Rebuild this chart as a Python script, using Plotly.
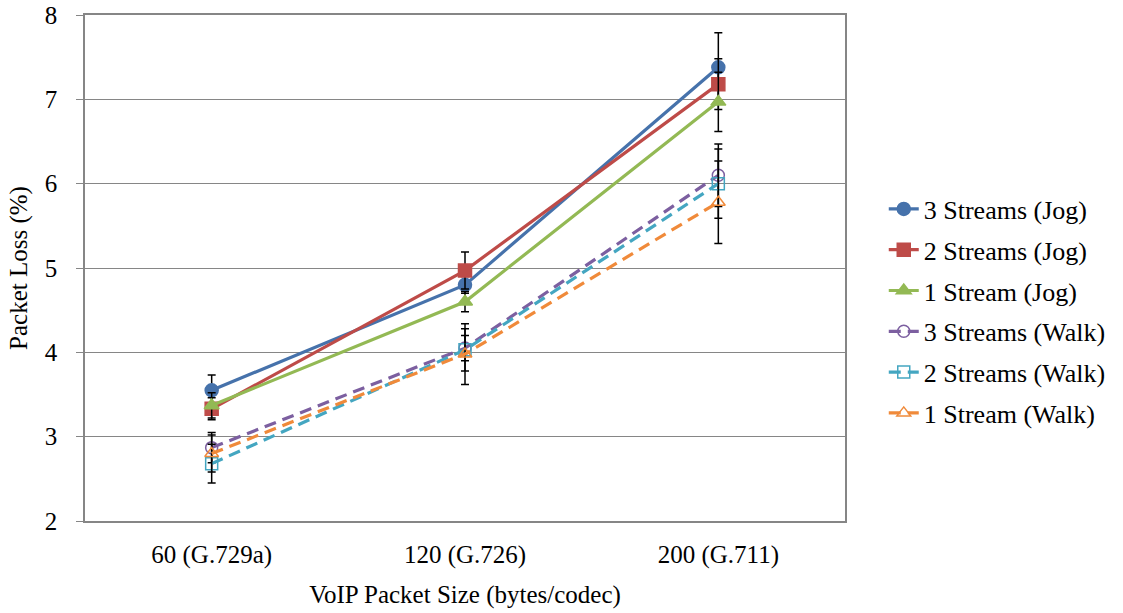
import plotly.graph_objects as go

categories = ["60 (G.729a)", "120 (G.726)", "200 (G.711)"]

series_names = ["3 Streams (Jog)", "2 Streams (Jog)", "1 Stream (Jog)",
                "3 Streams (Walk)", "2 Streams (Walk)", "1 Stream (Walk)"]

jog3 = [3.55, 4.80, 7.38]
jog2 = [3.33, 4.97, 7.18]
jog1 = [3.37, 4.60, 6.97]
walk3 = [2.87, 4.05, 6.10]
walk2 = [2.68, 4.03, 6.00]
walk1 = [2.80, 3.98, 5.78]

jog3_err = [0.18, 0.10, 0.41]
jog2_err = [0.13, 0.22, 0.30]
jog1_err = [0.15, 0.12, 0.35]
walk3_err = [0.18, 0.15, 0.37]
walk2_err = [0.23, 0.25, 0.41]
walk1_err = [0.22, 0.36, 0.49]

values = [jog3, jog2, jog1, walk3, walk2, walk1]
errors = [jog3_err, jog2_err, jog1_err, walk3_err, walk2_err, walk1_err]
colors = ["#4672AB", "#BE4B48", "#93B954", "#7C5FA0", "#44A6C1", "#F08A3A"]
symbols = ["circle", "square", "triangle-up",
           "circle-open", "square-open", "triangle-up-open"]
dashes = ["solid", "solid", "solid", "12px,7px", "12px,7px", "12px,7px"]

fig = go.Figure()
for name, v, e, c, s, d in zip(series_names, values, errors, colors, symbols, dashes):
    fig.add_trace(go.Scatter(
        x=categories, y=v, name=name, mode="lines+markers", legendgroup=name,
        line=dict(color=c, width=3.2, dash=d),
        marker=dict(symbol=s, size=13 if "open" not in s else 12, color=c,
                    line=dict(color=c, width=1.5)),
        error_y=dict(type="data", array=e, visible=True, color="black",
                     thickness=1.5, width=4),
    ))

font_family = "Liberation Serif"
fig.update_layout(
    width=1123, height=613,
    margin=dict(l=85, r=275, t=15, b=92),
    paper_bgcolor="white", plot_bgcolor="white",
    font=dict(family=font_family, size=25, color="black"),
    showlegend=True,
    legend=dict(x=1.051, y=0.415, xanchor="left", yanchor="middle",
                font=dict(family=font_family, size=26, color="black"),
                tracegroupgap=4, itemwidth=30, bgcolor="rgba(0,0,0,0)"),
    xaxis=dict(
        type="category", showgrid=False, showline=True, linecolor="#868686",
        linewidth=1.5, mirror=True, ticks="", automargin=False,
        tickfont=dict(family=font_family, size=25), ticklabelstandoff=10,
        title=dict(text="VoIP Packet Size (bytes/codec)",
                   font=dict(family=font_family, size=25), standoff=18),
        range=[-0.5, 2.5],
    ),
    yaxis=dict(
        range=[2, 8], dtick=1, showgrid=True, gridcolor="#868686", gridwidth=1.2,
        showline=True, linecolor="#868686", linewidth=1.5, mirror=True,
        ticks="outside", ticklen=7, tickcolor="#868686", automargin=False,
        tickfont=dict(family=font_family, size=25), ticklabelstandoff=14,
        title=dict(text="Packet Loss (%)", font=dict(family=font_family, size=25), standoff=10),
        zeroline=False,
    ),
)

fig.write_html("out.html")
